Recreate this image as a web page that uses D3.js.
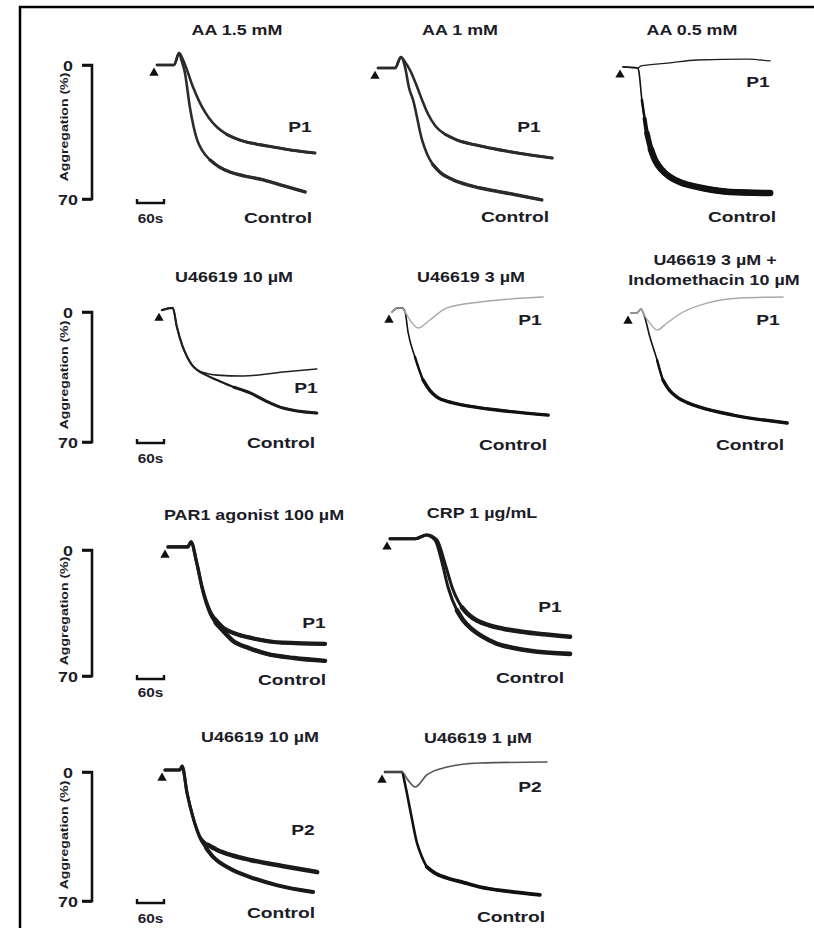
<!DOCTYPE html>
<html>
<head>
<meta charset="utf-8">
<script src="https://cdn.jsdelivr.net/npm/d3@7"></script>
<style>
html,body{margin:0;padding:0;background:#fff;}
svg{display:block;}
text{font-family:"Liberation Sans",Arial,Helvetica,sans-serif;font-weight:bold;fill:#1c1c28;}
</style>
</head>
<body>
<svg id="chart" width="814" height="928"></svg>
<script>
// ---------------- DATA ([time s, aggregation %]) ----------------
const panelTitles = [
  ["AA 1.5 mM"], ["AA 1 mM"], ["AA 0.5 mM"],
  ["U46619 10 µM"], ["U46619 3 µM"], ["U46619 3 µM +", "Indomethacin 10 µM"],
  ["PAR1 agonist 100 µM"], ["CRP 1 µg/mL"],
  ["U46619 10 µM"], ["U46619 1 µM"]
];
const patientNames = ["P1","P1","P1","P1","P1","P1","P1","P1","P2","P2"];
const controlName = "Control";
const yTickLabels = ["0", "70"];
const yDomain = [0, 70];
const scaleBarSeconds = 60;
const scaleBarLabel = "60s";
const yAxisTitle = "Aggregation (%)";

const aa15_P1 = [[0,0],[38,0],[49,-6.3],[58,-2.6],[80,11.5],[100,21.9],[115,27.5],[133,32.4],[155,36.2],[184,39.2],[220,41.3],[258,42.8],[300,44.5],[351,46]];
const aa15_Control = [[0,0],[38,0],[49,-6.3],[55,-2],[62,4],[73,22],[89,39],[100,44.5],[118,49.6],[138,53.2],[162,55.9],[195,58],[236,60],[280,63],[329,66.3]];
const aa1_P1 = [[0,1.6],[38,1.6],[51,-4.2],[60,-1.6],[71,2.6],[87,11.5],[98,18.3],[112,26],[128,32],[150,36.3],[176,39.2],[215,41.7],[249,43.4],[310,46],[387,48.6]];
const aa1_Control = [[0,1.6],[38,1.6],[51,-4.2],[60,1],[69,12],[78,18.3],[98,39.2],[110,47],[122,52],[140,56.5],[167,60],[205,63],[249,65.3],[300,67.5],[364,70.5]];
const aa05_P1 = [[0,1],[33,1.6],[40,0.5],[100,-1],[165,-2.6],[276,-3.1],[327,-2.1]];
const aa05_Control = [[0,1],[33,1.6],[35,3],[42,18.3],[48,28],[53,35.5],[62,44],[71,49.6],[85,54.5],[104,58.5],[130,61.5],[164,63.7],[200,65.3],[238,66.3],[327,66.9]];
const u10_P1 = [[0,-1],[24,-2.2],[33,8],[45,18],[56,24.2],[66,28.3],[78,31.2],[98,33],[122,34],[180,34.5],[269,32.3],[344,30.7]];
const u10_Control = [[0,-1],[24,-2.2],[33,8],[45,18],[56,24.2],[66,28.3],[78,31.2],[98,34],[122,36.6],[160,40.5],[196,43.6],[230,47.8],[269,51.7],[344,54.4]];
const u3_P1 = [[0,0],[13,-2.2],[22,-2.2],[29,0],[40,4.3],[58,8.6],[84,4.3],[122,-2.2],[196,-5.4],[336,-8.1]];
const u3_Control = [[0,0],[13,-2.2],[22,-2.2],[29,0],[36,11.3],[51,24.2],[69,36.6],[84,42.2],[100,45.8],[125,48.3],[158,50.1],[233,52.8],[347,55.5]];
const u3i_P1 = [[0,0.5],[13,0.5],[22,-1.6],[29,1.6],[42,6],[58,9.7],[80,5.9],[116,0],[169,-4.8],[242,-7.5],[338,-8.1]];
const u3i_Control = [[0,0.5],[13,0.5],[22,-1.6],[29,1.6],[42,13.5],[58,25.9],[71,36.6],[85,42],[102,45.8],[125,48.8],[153,51.2],[227,55.5],[347,59.8]];
const par1_P1 = [[0,-1.7],[44,-1.7],[51,-4.5],[64,7.3],[76,20.7],[93,33.6],[106,38.8],[122,43.1],[150,46.5],[182,48.7],[255,51.5],[349,52.1]];
const par1_Control = [[0,-1.7],[44,-1.7],[51,-4.5],[64,7.3],[76,21.5],[93,35],[106,40.5],[122,44.8],[144,50.4],[180,54.5],[220,57.7],[280,60],[349,61.6]];
const crp_P1 = [[0,-6.2],[56,-6.2],[82,-8.4],[104,-5.6],[122,7.3],[138,20.7],[160,31.9],[175,36],[193,39.2],[220,41.8],[251,43.7],[320,46.3],[400,48.2]];
const crp_Control = [[0,-6.2],[56,-6.2],[80,-8.4],[100,-5.6],[116,7.3],[129,20.7],[149,33.6],[162,38.8],[178,43.1],[205,48],[238,52.1],[275,54.4],[311,56],[400,57.7]];
const u10b_P2 = [[0,-1.1],[33,-1.1],[38,-3.3],[49,11.4],[62,24.4],[78,35.3],[95,39.5],[116,42.3],[150,45.3],[189,47.7],[260,51],[338,54.3]];
const u10b_Control = [[0,-1.1],[33,-1.1],[38,-3.3],[49,11.4],[62,24.4],[78,36],[92,41.5],[107,46.1],[145,52.5],[189,57],[250,61.5],[329,65.1]];
const u1_P2 = [[0,0],[38,0],[50,4],[67,8.1],[93,1.6],[138,-2.7],[211,-4.9],[360,-5.4]];
const u1_Control = [[0,0],[38,0],[44,6],[56,20.6],[71,38.5],[82,46],[93,51.5],[112,55],[138,57.5],[175,60],[211,62.4],[275,64.8],[344,66.7]];

const patientSeries = [aa15_P1, aa1_P1, aa05_P1, u10_P1, u3_P1, u3i_P1, par1_P1, crp_P1, u10b_P2, u1_P2];
const controlSeries = [aa15_Control, aa1_Control, aa05_Control, u10_Control, u3_Control, u3i_Control, par1_Control, crp_Control, u10b_Control, u1_Control];

// ---------------- LAYOUT ----------------
const svg = d3.select("#chart");
const STRETCH = 1.28;
const pxPerSec = 0.45;

const rows = [
  {y0: 65, y70: 199, barY: 203, barText: 223, axisLabelY: 127},
  {y0: 312, y70: 442, barY: 443, barText: 463, axisLabelY: 375},
  {y0: 550, y70: 676, barY: 679, barText: 697, axisLabelY: 611},
  {y0: 772, y70: 901, barY: 903, barText: 923, axisLabelY: 835}
];

// style: c colour, w width, tails = [[from time, width], ...] thickening of the noisy plateau
const panels = [
  {row:0, x0:157, title:[[237,35]], pLab:[300,132], cLab:[278,223], pStyle:{c:"#2b2b2b",w:2.6,tails:[[150,3]]}, cStyle:{c:"#2b2b2b",w:2.6,tails:[[110,3.4]]}},
  {row:0, x0:378, title:[[460,35]], pLab:[529,132], cLab:[515,222], pStyle:{c:"#2b2b2b",w:2.6,tails:[[150,3]]}, cStyle:{c:"#2b2b2b",w:2.6,tails:[[120,3.4]]}},
  {row:0, x0:623, title:[[692,35]], pLab:[758,87], cLab:[742,222], pStyle:{c:"#222",w:1.3}, cStyle:{c:"#111",w:1.6,tails:[[42,2.6],[48,4],[53,5.5],[62,6.5],[200,5.5]]}},
  {row:1, x0:162, title:[[234,282]], pLab:[306,393], cLab:[281,448], pStyle:{c:"#222",w:1.6}, cStyle:{c:"#1a1a1a",w:2.2,tails:[[140,3]]}},
  {row:1, x0:392, title:[[471,282]], pLab:[530,325], cLab:[513,450], pStyle:{c:"#a8a8a8",w:1.4}, cStyle:{c:"#111",w:1.6,tails:[[51,2.4],[69,3.4]]}},
  {row:1, x0:631, title:[[715,265],[714,285]], pLab:[768,325], cLab:[750,450], pStyle:{c:"#a8a8a8",w:1.4}, cStyle:{c:"#111",w:1.6,tails:[[58,2.4],[71,3.4]]}},
  {row:2, x0:168, title:[[254,520]], pLab:[314,628], cLab:[292,685], pStyle:{c:"#1a1a1a",w:3.2,tails:[[106,4.2]]}, cStyle:{c:"#1a1a1a",w:3.2,tails:[[106,4.4]]}},
  {row:2, x0:390, title:[[482,518]], pLab:[550,612], cLab:[530,683], pStyle:{c:"#1a1a1a",w:3,tails:[[160,4.6]]}, cStyle:{c:"#1a1a1a",w:3,tails:[[149,4.6]]}},
  {row:3, x0:165, title:[[260,742]], pLab:[303,835], cLab:[281,918], pStyle:{c:"#1a1a1a",w:3,tails:[[95,4.6]]}, cStyle:{c:"#1a1a1a",w:3,tails:[[92,4]]}},
  {row:3, x0:385, title:[[478,743]], pLab:[530,792], cLab:[511,922], pStyle:{c:"#555",w:1.6}, cStyle:{c:"#111",w:2.6,tails:[[93,3.8]]}}
];

// frame (top and left border)
svg.append("line").attr("x1",19).attr("x2",814).attr("y1",7).attr("y2",7).attr("stroke","#000").attr("stroke-width",2.5);
svg.append("line").attr("x1",20).attr("x2",20).attr("y1",6).attr("y2",928).attr("stroke","#000").attr("stroke-width",2.5);

function stretchedText(g, str, x, y, size, anchor, rotate) {
  return g.append("text")
    .attr("transform", `translate(${x},${y})` + (rotate ? ` rotate(${rotate})` : "") + ` scale(${STRETCH},1)`)
    .attr("text-anchor", anchor || "middle")
    .attr("font-size", size)
    .text(str);
}

// y axes (bracket), axis titles, scale bars
const yScales = rows.map(r => d3.scaleLinear().domain(yDomain).range([r.y0, r.y70]));
rows.forEach((r, i) => {
  const g = svg.append("g");
  const ys = yScales[i];
  const axis = d3.axisLeft(ys).tickValues(yDomain).tickSize(10).tickPadding(6);
  const ax = g.append("g").attr("transform", "translate(92,0)").call(axis);
  ax.select(".domain").attr("stroke", "#111").attr("stroke-width", 2.6).attr("d", `M-10,${ys(0)}H0V${ys(70)}H-10`);
  ax.selectAll(".tick line").attr("stroke", "#111").attr("stroke-width", 2.6);
  ax.selectAll(".tick text").remove();
  ax.selectAll(".tick").each(function(d, k) {
    stretchedText(d3.select(this), yTickLabels[k], -24, 5, 14, "middle");
  });
  stretchedText(g, yAxisTitle, 68, r.axisLabelY, 11, "middle", -90);
  const xb = d3.scaleLinear().domain([0, scaleBarSeconds]).range([137, 137 + scaleBarSeconds * pxPerSec]);
  g.append("path")
    .attr("d", `M${xb(0)},${r.barY - 4}V${r.barY}H${xb(scaleBarSeconds)}V${r.barY - 4}`)
    .attr("fill", "none").attr("stroke", "#111").attr("stroke-width", 2.4);
  stretchedText(g, scaleBarLabel, (xb(0) + xb(scaleBarSeconds)) / 2, r.barText, 12, "middle");
});

// panels
const tri = d3.symbol().type(d3.symbolTriangle).size(38);
function drawTrace(g, data, style, line) {
  g.append("path").datum(data).attr("d", line)
    .attr("fill", "none").attr("stroke", style.c).attr("stroke-width", style.w)
    .attr("stroke-linejoin", "round").attr("stroke-linecap", "round");
  (style.tails || []).forEach(([from, w]) => {
    const tail = data.filter(d => d[0] >= from);
    g.append("path").datum(tail).attr("d", line)
      .attr("fill", "none").attr("stroke", style.c).attr("stroke-width", w)
      .attr("stroke-linejoin", "round").attr("stroke-linecap", "round");
  });
}
panels.forEach((p, i) => {
  const g = svg.append("g");
  const ys = yScales[p.row];
  const xs = d3.scaleLinear().domain([0, 60]).range([p.x0, p.x0 + 60 * pxPerSec]);
  const line = d3.line().x(d => xs(d[0])).y(d => ys(d[1])).curve(d3.curveMonotoneX);

  drawTrace(g, controlSeries[i], p.cStyle, line);
  drawTrace(g, patientSeries[i], p.pStyle, line);

  const start = controlSeries[i][0];
  g.append("path").attr("d", tri)
    .attr("transform", `translate(${xs(start[0]) - 3},${ys(start[1]) + 8})`)
    .attr("fill", "#111");

  panelTitles[i].forEach((t, k) => stretchedText(g, t, p.title[k][0], p.title[k][1], 14, "middle"));
  stretchedText(g, patientNames[i], p.pLab[0], p.pLab[1], 15, "middle");
  stretchedText(g, controlName, p.cLab[0], p.cLab[1], 15, "middle");
});
</script>
</body>
</html>
